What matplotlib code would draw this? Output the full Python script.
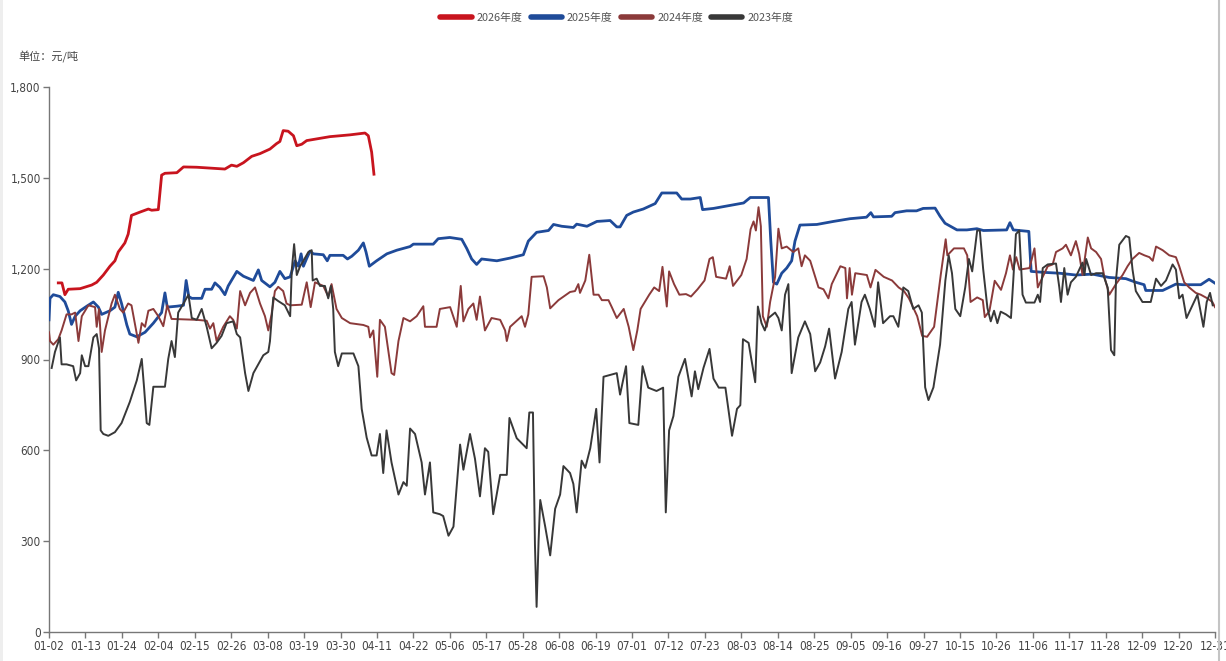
import matplotlib
matplotlib.use("Agg")
import matplotlib.pyplot as plt
from matplotlib.lines import Line2D
from matplotlib.patches import Rectangle
from matplotlib.ticker import FuncFormatter

# category axis: 353 trading-calendar days, a label every 11th
N_CATS = 353
TICK_LABELS = ["01-02", "01-13", "01-24", "02-04", "02-15", "02-26", "03-08",
               "03-19", "03-30", "04-11", "04-22", "05-06", "05-17", "05-28",
               "06-08", "06-19", "07-01", "07-12", "07-23", "08-03", "08-14",
               "08-25", "09-05", "09-16", "09-27", "10-15", "10-26", "11-06",
               "11-17", "11-28", "12-09", "12-20", "12-31"]

SERIES_NAMES = ["2026年度", "2025年度", "2024年度", "2023年度"]

# values, x = category index
X_2026 = [2.8, 3.9, 4.8, 5.8, 9.4, 12.9, 14.4, 16.4, 18.4, 19.9, 20.9, 22.9, 23.9, 24.9,
          27.5, 30, 31, 33, 34, 35, 38.6, 40.6, 44.6, 53.1, 55.1, 56.7, 58.7, 61.2,
          63.7, 66.7, 68.7, 69.7, 70.7, 72.2, 73.8, 74.8, 76.3, 77.8, 84.8, 90.9,
          95.4, 96.4, 97.4, 98.1]
Y_2026 = [1153, 1153, 1114, 1132, 1134, 1146, 1155, 1179, 1208, 1226, 1255, 1285, 1314, 1376,
          1387, 1397, 1393, 1395, 1509, 1515, 1517, 1536, 1535, 1529, 1542, 1538, 1550, 1571,
          1580, 1595, 1613, 1620, 1656, 1654, 1639, 1606, 1611, 1623, 1636, 1642,
          1648, 1639, 1585, 1512]

X_2025 = [0, 0.3, 1.3, 3.3, 4.8, 5.8, 6.8, 7.9, 9.4, 11.4, 13.4, 14.9, 15.9, 18.4, 19.9,
          20.9, 21.9, 23.5, 24.4, 26.5, 29, 31.5, 34, 35, 35.7, 38.6, 40.6, 41.4, 42.2,
          43.1, 46.1, 47.1, 49.1, 50.1, 51.6, 53.1, 54.1, 56.7, 58.7, 61.7, 63.2, 64.2,
          66.7, 68.2, 69.7, 71.2, 72.8, 74.3, 75.3, 76.1, 76.8, 77.8, 78.8, 79.8, 82.8,
          84.0, 84.8, 88.8, 90.1, 91.4, 93.4, 94.9, 95.7, 96.7, 98.9, 102, 105, 109, 110,
          116, 117.5, 121, 124.6, 126.1, 127.6, 129.1, 130.6, 135.2, 139.2, 143.2, 144.7,
          147.2, 150.8, 152.3, 154.8, 158.3, 159.3, 162.4, 165.4, 169.4, 171.4, 172.4,
          174.4, 176.4, 179.4, 183.0, 185.0, 189.5, 191.0, 193.6, 196.6, 197.3, 200.6,
          205.6, 209.7, 211.7, 217.2, 217.9, 218.7, 219.7, 221.2, 222.7, 224.2, 225.2,
          226.7, 231.8, 236.8, 241.8, 246.8, 248.1, 248.9, 254.4, 255.4, 258.9, 261.9,
          263.9, 267.5, 269.0, 270.5, 274.1, 277.1, 280.1, 282.1, 289.1, 290.1, 291.1,
          295.8, 296.5, 300, 305, 310, 315, 320, 325.1, 328.1, 330.6, 331.1, 336.2,
          340.2, 342.2, 347.7, 350.2, 352]
Y_2025 = [1031, 1102, 1114, 1108, 1090, 1061, 1016, 1043, 1061, 1076, 1090, 1073, 1049, 1061, 1073,
          1122, 1085, 1014, 984, 975, 990, 1020, 1055, 1120, 1073, 1076, 1079, 1161, 1108,
          1102, 1102, 1132, 1132, 1153, 1138, 1114, 1143, 1191, 1175, 1161, 1196, 1161,
          1140, 1155, 1191, 1167, 1173, 1226, 1208, 1249, 1208, 1234, 1258, 1249, 1246,
          1226, 1244, 1244, 1232, 1241, 1261, 1285, 1255, 1208, 1226, 1249, 1261, 1273, 1281,
          1281, 1299, 1303, 1297, 1267, 1232, 1214, 1232, 1226, 1235, 1246, 1291,
          1320, 1326, 1346, 1340, 1336, 1347, 1340, 1356, 1359, 1338, 1338,
          1376, 1387, 1397, 1415, 1450, 1450, 1430, 1430, 1435, 1395, 1399,
          1409, 1417, 1435, 1435, 1291, 1155, 1149, 1185, 1202, 1226, 1291,
          1344, 1346, 1356, 1365, 1370, 1385, 1371, 1373, 1385, 1391, 1391,
          1399, 1400, 1373, 1350, 1328, 1328, 1332, 1326, 1328, 1352, 1328,
          1323, 1191, 1188, 1185, 1179, 1182, 1171, 1167, 1155, 1147, 1128, 1128,
          1149, 1147, 1147, 1165, 1152]

X_2024 = [0, 0.3, 1.3, 2.8, 3.8, 5.3, 6.8, 7.9, 8.9, 9.9, 11.9, 13.9, 14.4, 15.1, 15.9, 16.9,
          18.9, 19.9, 21.4, 22.4, 23.9, 24.9, 26.3, 27.0, 28.0, 29.0, 30.0, 31.5, 33.0, 34.5,
          35.7, 37.0, 44.6, 47.6, 48.6, 49.6, 50.6, 52.6, 54.6, 55.6, 56.7, 57.7, 59.2, 60.7,
          62.2, 63.7, 65.2, 66.2, 67.2, 68.2, 69.2, 70.7, 71.7, 72.8, 76.3, 77.8, 79.0, 80.3,
          82.8, 84.3, 85.3, 86.8, 88.4, 90.9, 94.9, 96.4, 96.9, 97.9, 99.1, 99.9, 101.4, 103.4,
          104.2, 105.5, 107.0, 109.0, 111.0, 113.0, 113.5, 117.0, 118.0, 121.1, 123.1, 124.3,
          125.1, 126.6, 128.1, 129.1, 130.1, 131.6, 133.6, 136.2, 137.7, 138.2, 139.2, 142.7,
          143.7, 144.7, 145.7, 149.3, 150.3, 151.3, 153.8, 157.3, 158.8, 159.8, 160.3, 161.9,
          163.1, 164.4, 165.9, 166.9, 168.9, 169.9, 171.4, 173.5, 175.0, 176.4, 177.6, 178.6,
          179.6, 181.2, 182.7, 184.2, 185.2, 186.5, 187.2, 188.7, 190.3, 192.3, 193.8, 195.8,
          197.9, 199.4, 200.4, 201.4, 204.4, 205.5, 206.5, 209.0, 210.6, 211.8, 212.7, 213.4,
          214.2, 214.9, 215.5, 216.7, 217.7, 219.2, 220.2, 221.2, 222.7, 224.7, 226.2, 227.2,
          228.2, 229.8, 232.3, 233.8, 235.3, 236.3, 238.9, 240.4, 240.9, 241.7, 242.4, 243.4,
          246.9, 248.0, 249.5, 252.0, 254.5, 256.5, 258.1, 259.6, 261.1, 262.1, 263.6, 265.1,
          267.2, 269.2, 270.7, 271.2, 273.2, 276.2, 277.2, 278.2, 280.2, 281.9, 282.5, 283.9,
          285.5, 287.4, 288.9, 290.1, 291.0, 292.0, 293.0, 296.0, 297.5, 298.5, 300.0, 301.5,
          303.0, 304.0, 306.0, 307.0, 308.5, 310.0, 311.0, 312.0, 313.6, 314.6, 316.1, 317.6,
          318.6, 320.1, 322.1, 324.1, 325.6, 327.1, 329.1, 330.7, 332.2, 333.2, 334.2, 336.2,
          338.2, 340.2, 341.2, 342.7, 344.2, 346.2, 347.7, 349.7, 351.2, 352.0]
Y_2024 = [990, 961, 949, 967, 996, 1049, 1049, 1055, 961, 1043, 1079, 1073, 1008, 1067, 925, 996,
          1085, 1114, 1067, 1055, 1085, 1079, 996, 955, 1020, 1008, 1061, 1067, 1043, 1010,
          1079, 1034, 1031, 1028, 1002, 1020, 961, 1008, 1043, 1031, 1002, 1126, 1079, 1120,
          1138, 1085, 1043, 996, 1050, 1126, 1140, 1126, 1085, 1079, 1081, 1155, 1073, 1155,
          1143, 1108, 1149, 1067, 1037, 1020, 1014, 1008, 973, 996, 843, 1031, 1008, 855,
          849, 961, 1037, 1026, 1043, 1076, 1008, 1008, 1067, 1073, 1008, 1143,
          1026, 1067, 1085, 1031, 1108, 996, 1037, 1031, 996, 961, 1008, 1043,
          1008, 1049, 1173, 1175, 1138, 1069, 1096, 1123, 1126, 1149, 1120, 1161,
          1246, 1114, 1114, 1096, 1096, 1073, 1037, 1067, 1008, 931, 996, 1067,
          1085, 1114, 1138, 1126, 1206, 1075, 1191, 1149, 1114, 1116, 1108, 1132,
          1161, 1232, 1238, 1173, 1167, 1208, 1143, 1179, 1232, 1330, 1356, 1326,
          1403, 1340, 1043, 1008, 1090, 1173, 1332, 1267, 1273, 1255, 1267, 1208,
          1244, 1226, 1138, 1132, 1102, 1149, 1208, 1202, 1102, 1202, 1114, 1185,
          1179, 1138, 1196, 1173, 1161, 1138, 1126, 1102, 1067, 1043, 978, 975,
          1008, 1179, 1297, 1244, 1267, 1267, 1244, 1090, 1105, 1096, 1040, 1060,
          1160, 1130, 1185, 1244, 1197, 1238, 1197, 1202, 1267, 1138, 1173, 1208,
          1214, 1255, 1267, 1279, 1244, 1291, 1249, 1179, 1303, 1267, 1255, 1232,
          1173, 1114, 1149, 1179, 1208, 1232, 1252, 1244, 1238, 1226, 1273, 1261,
          1244, 1238, 1208, 1155, 1138, 1120, 1114, 1102, 1090, 1073]

X_2023 = [0.8, 1.8, 3.3, 3.8, 5.3, 7.3, 8.2, 9.4, 9.9, 10.9, 11.9, 13.4, 14.4, 15.1, 15.6, 16.4,
          17.9, 19.9, 21.9, 24.4, 26.5, 28.0, 28.7, 29.5, 30.3, 31.5, 35.0, 36.0, 37.0, 38.0,
          39.0, 40.6, 42.1, 43.1, 44.6, 46.1, 47.6, 49.1, 50.6, 52.1, 53.6, 55.6, 56.7, 57.7,
          59.2, 60.2, 61.7, 64.7, 66.2, 66.7, 67.7, 69.2, 71.2, 72.8, 73.3, 74.0, 74.8, 75.8,
          76.8, 78.3, 79.3, 79.6, 80.8, 81.8, 83.3, 84.3, 85.1, 85.8, 86.3, 87.3, 88.4, 91.9,
          93.4, 94.4, 95.9, 97.4, 98.9, 99.9, 100.9, 101.9, 103.4, 105.5, 107.0, 108.0, 109.0,
          110.5, 112.5, 113.5, 115.0, 116.0, 118.0, 119.0, 120.6, 122.1, 124.1, 125.1, 127.1,
          128.6, 130.1, 131.6, 132.6, 134.1, 136.2, 138.2, 139.0, 141.2, 144.2, 145.0, 146.1,
          146.7, 147.2, 147.8, 148.3, 149.8, 151.3, 152.8, 154.3, 155.3, 157.3, 158.3, 159.3,
          160.8, 161.9, 163.4, 165.2, 166.2, 167.4, 171.4, 172.4, 174.2, 175.2, 177.9, 179.2,
          180.9, 183.4, 185.4, 186.2, 187.2, 188.5, 190.0, 192.0, 194.0, 195.0, 196.0, 197.6,
          199.4, 200.6, 202.2, 204.2, 206.2, 207.7, 208.7, 209.5, 211.2, 213.2, 214.0, 215.1,
          216.1, 217.2, 219.2, 220.2, 221.2, 222.2, 223.2, 224.2, 226.2, 228.2, 229.8, 231.3,
          232.8, 234.3, 235.5, 237.3, 239.3, 241.3, 242.3, 243.3, 245.3, 246.3, 247.8, 249.3,
          250.3, 251.8, 253.9, 254.9, 256.4, 257.9, 259.4, 260.9, 262.5, 263.5, 264.5, 265.5,
          267.0, 269.0, 270.6, 271.6, 272.6, 273.6, 275.1, 276.6, 277.7, 278.7, 280.2, 281.0,
          282.0, 283.3, 284.3, 285.3, 286.3, 287.3, 288.9, 290.4, 291.1, 291.9, 292.9, 293.9,
          294.9, 297.5, 298.5, 299.2, 300.0, 301.5, 304.0, 305.0, 305.5, 306.5, 307.5, 308.5,
          310.0, 312.0, 312.6, 313.1, 314.6, 316.1, 318.1, 319.6, 320.6, 321.6, 322.1, 323.1,
          325.1, 326.1, 327.1, 328.1, 330.1, 332.6, 334.2, 335.7, 337.2, 339.2, 340.2, 341.2,
          342.2, 343.4, 345.2, 346.7, 348.5, 349.5, 350.5, 351.3]
Y_2023 = [872, 925, 973, 884, 884, 878, 831, 855, 914, 878, 878, 973, 984, 937, 666, 654,
          648, 660, 690, 760, 831, 902, 807, 690, 684, 810, 810, 902, 961, 908,
          1055, 1085, 1114, 1037, 1031, 1067, 1008, 937, 955, 978, 1020, 1026, 984, 973,
          855, 796, 855, 914, 925, 960, 1105, 1093, 1079, 1043, 1197, 1281, 1179, 1208,
          1226, 1255, 1261, 1161, 1167, 1143, 1143, 1102, 1143, 1067, 925, 878, 920, 920,
          878, 737, 642, 583, 583, 654, 525, 666, 560, 454, 495, 483, 672,
          654, 560, 454, 560, 395, 389, 383, 318, 348, 619, 536, 654,
          572, 448, 607, 595, 389, 519, 519, 707, 640, 607, 725, 725,
          289, 83, 301, 436, 348, 253, 407, 454, 548, 525, 489, 395,
          566, 542, 607, 737, 560, 843, 855, 784, 878, 690, 684, 878,
          807, 796, 807, 395, 666, 713, 843, 902, 778, 861, 802, 873,
          935, 837, 807, 807, 648, 737, 749, 967, 955, 825, 1075, 1020,
          996, 1037, 1055, 1037, 996, 1114, 1149, 855, 973, 1026, 984, 861,
          890, 943, 1002, 837, 925, 1067, 1090, 949, 1090, 1114, 1067, 1008,
          1155, 1020, 1043, 1043, 1008, 1138, 1126, 1067, 1079, 1055, 808, 766,
          808, 949, 1161, 1244, 1185, 1067, 1043, 1138, 1232, 1191, 1326, 1326,
          1200, 1070, 1026, 1061, 1020, 1058, 1049, 1037, 1161, 1314, 1326, 1114,
          1088, 1088, 1114, 1090, 1202, 1214, 1217, 1138, 1090, 1202, 1114, 1155,
          1173, 1220, 1179, 1232, 1179, 1185, 1185, 1138, 931, 914, 1161, 1279,
          1308, 1303, 1197, 1126, 1090, 1090, 1167, 1143, 1161, 1214, 1197, 1102,
          1114, 1037, 1079, 1114, 1008, 1090, 1120, 1079]

COLORS = ["#C8141E", "#1F4B99", "#8B3A3A", "#383838"]

fig = plt.figure(figsize=(12.26, 6.61), dpi=100)
ax = fig.add_axes([49 / 1226, 1 - 632 / 661, (1215 - 49) / 1226, (632 - 87) / 661])

series = [(X_2026, Y_2026), (X_2025, Y_2025), (X_2024, Y_2024), (X_2023, Y_2023)]
widths = [2.0, 2.0, 1.4, 1.4]
for k, (xs, ys) in enumerate(series):
    ax.plot(xs, ys, color=COLORS[k], lw=widths[k], solid_joinstyle="round", zorder=2 + k)

ax.set_xlim(0, N_CATS - 1)
ax.set_ylim(0, 1800)
ax.set_yticks(range(0, 1801, 300))
ax.yaxis.set_major_formatter(FuncFormatter(lambda v, _: f"{v:,.0f}"))
ax.set_xticks(range(0, N_CATS, 11))
ax.set_xticklabels(TICK_LABELS)

for side in ("top", "right"):
    ax.spines[side].set_visible(False)
for side in ("left", "bottom"):
    ax.spines[side].set_color("#777777")
    ax.spines[side].set_linewidth(1.0)
ax.tick_params(direction="out", length=4, width=1, color="#777777",
               labelcolor="#444444", labelsize=8.5, pad=2)
for lab in ax.get_xticklabels() + ax.get_yticklabels():
    lab.set_family(["DejaVu Sans"])
    lab.set_fontstretch("condensed")

cjk = ["Noto Sans CJK SC", "DejaVu Sans"]
fig.text(18 / 1226, 1 - 57 / 661, "单位：元/吨", family=cjk, fontsize=8,
         color="#444444", va="center", ha="left")

handles = [Line2D([], [], color=c, lw=4, solid_capstyle="round") for c in COLORS]
leg = fig.legend(handles, SERIES_NAMES, loc="center", bbox_to_anchor=(0.503, 1 - 18 / 661),
                 ncol=4, frameon=False, handlelength=2.9, handletextpad=0.45,
                 columnspacing=0.75, labelcolor="#555555", prop={"family": cjk, "size": 7.8})

# window border remnants from the original screenshot
fig.add_artist(Rectangle((0, 0), 3 / 1226, 1, transform=fig.transFigure,
                         color="#eeeeee", lw=0))
fig.add_artist(Line2D([1218.5 / 1226] * 2, [0, 1], transform=fig.transFigure,
                      color="#c4c4c4", lw=1.5))

fig.savefig("out.png", dpi=100)
